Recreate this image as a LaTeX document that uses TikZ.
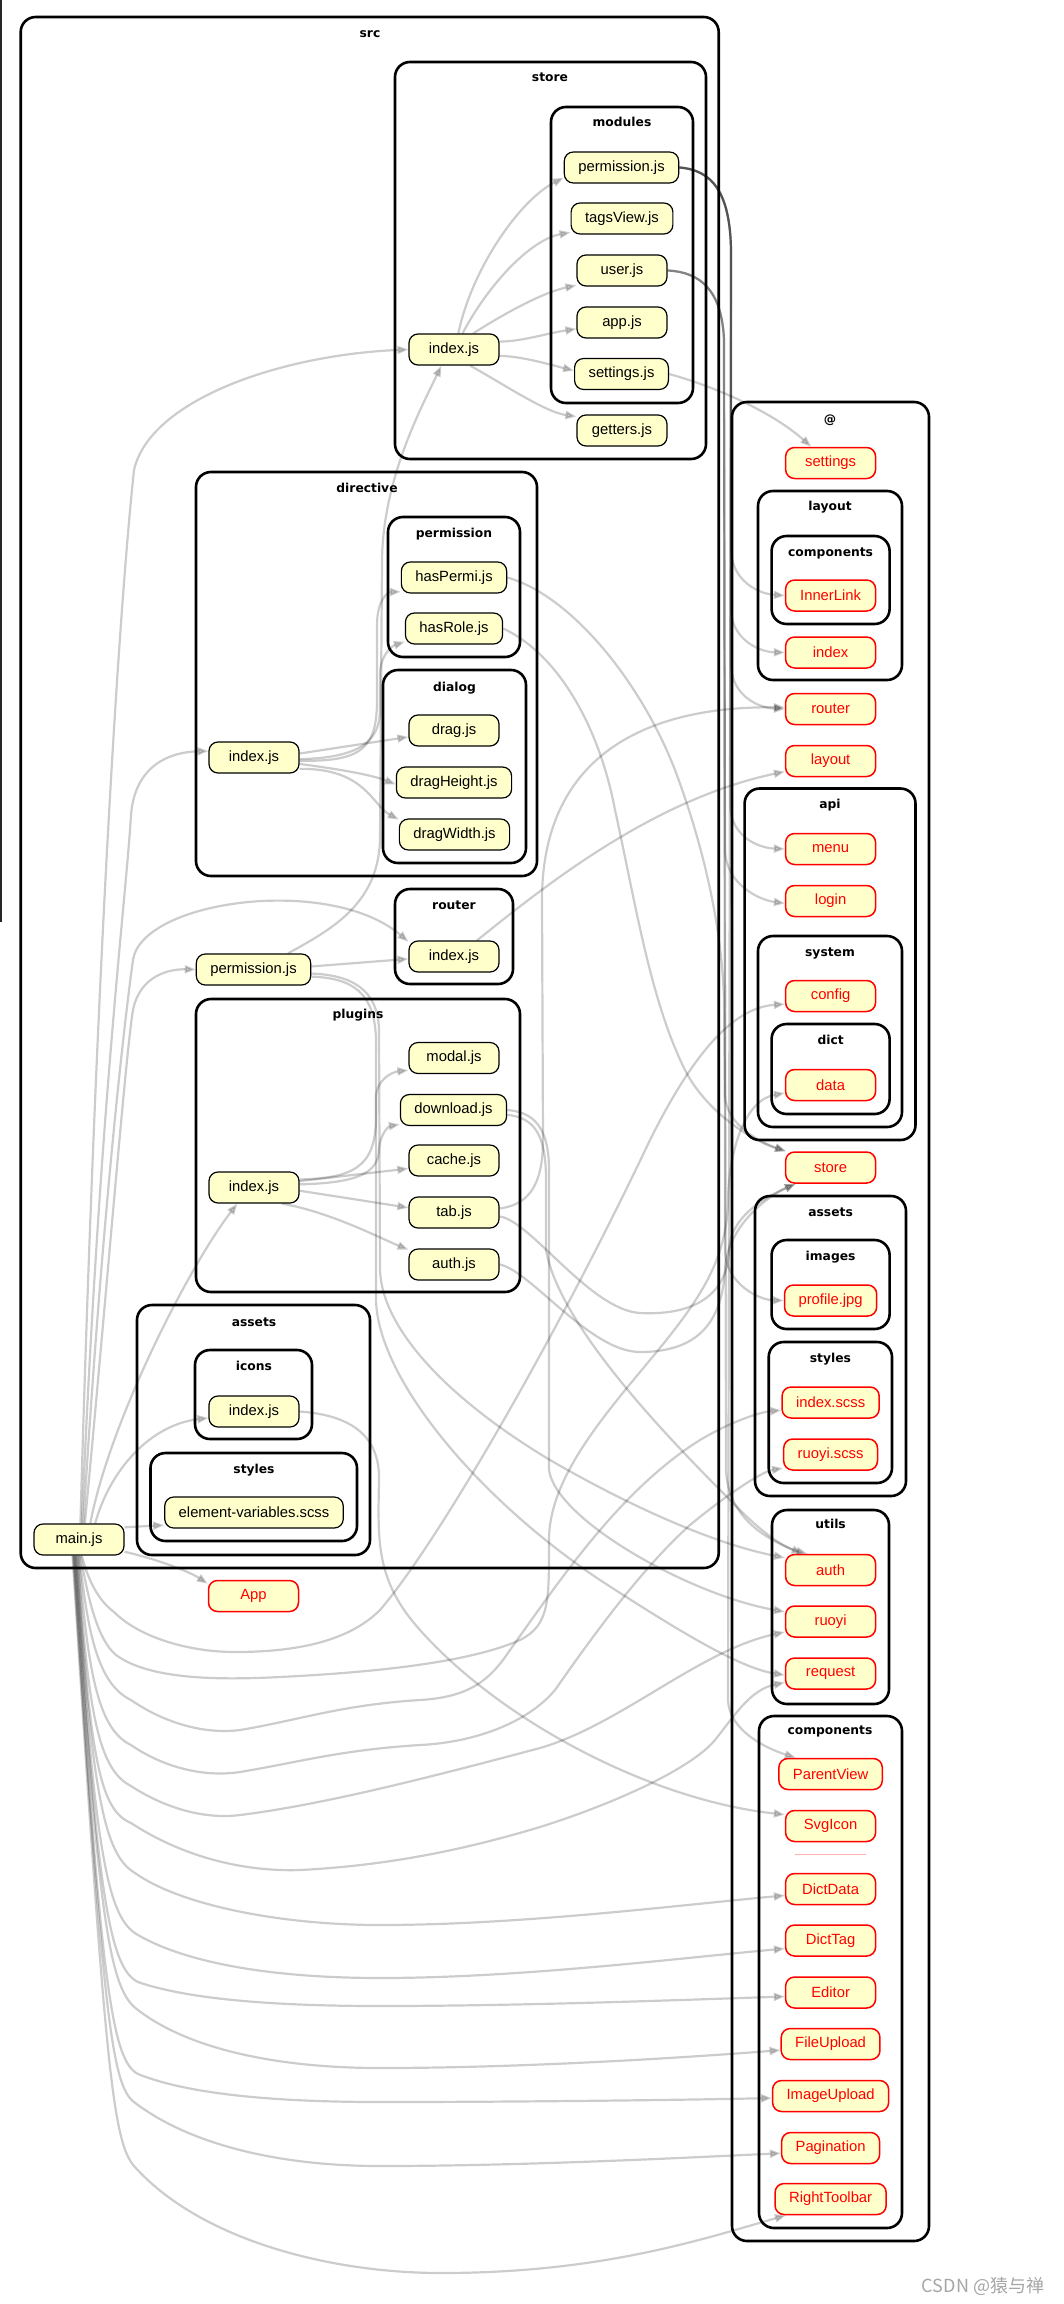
\documentclass[tikz,border=0pt]{standalone}
\usepackage{fontspec}
\setmainfont{Liberation Sans}
\newfontfamily\cfont{DejaVu Sans}
\newfontfamily\wmfont{Noto Sans CJK SC}
\usetikzlibrary{arrows.meta}
\definecolor{nodefill}{HTML}{FFFFCC}
\pgfdeclarelayer{back}
\pgfdeclarelayer{mid}
\pgfsetlayers{back,mid,main}
\begin{document}
\begin{tikzpicture}[x=1pt,y=-1pt,
  fn/.style={draw=black, line width=1.2pt, fill=nodefill, rounded corners=9pt,
    minimum height=31pt, minimum width=90pt, inner xsep=14pt, inner ysep=0pt,
    font={\fontsize{14.8}{17}\selectfont}},
  an/.style={fn, draw=red, text=red, line width=1.5pt},
  cl/.style={draw=black, line width=2.6pt, rounded corners=15pt},
  cll/.style={font={\cfont\bfseries\fontsize{12.3}{14}\selectfont}, inner sep=0pt, anchor=base},
  edg/.style={draw=black, opacity=0.2, line width=2.2pt, -{Triangle[length=11pt,width=8pt]}}]
\useasboundingbox (0,0) rectangle (1064,2304);
\begin{pgfonlayer}{back}
\fill[white] (0,0) rectangle (1064,2304);
\draw[line width=1.8pt, black!85] (0.9,0) -- (0.9,922);
% src clusters
\draw[cl] (20.7,17) rectangle (718.7,1568);
\draw[cl] (395,62) rectangle (706,459);
\draw[cl] (551,107) rectangle (693,403);
\draw[cl] (196,472) rectangle (537,876);
\draw[cl] (388,517) rectangle (520,657);
\draw[cl] (383,670) rectangle (526,863);
\draw[cl] (395,889) rectangle (513,984);
\draw[cl] (196,999) rectangle (520,1292);
\draw[cl] (137,1305) rectangle (370,1555);
\draw[cl] (195,1350) rectangle (312,1439);
\draw[cl] (150.5,1453) rectangle (357,1541);
% @ clusters
\draw[cl] (732,402) rectangle (929,2241);
\draw[cl] (758,491) rectangle (902,680);
\draw[cl] (771.6,536) rectangle (889.6,624);
\draw[cl] (744.6,788.5) rectangle (915.5,1140);
\draw[cl] (758,936) rectangle (902,1127);
\draw[cl] (771.6,1024) rectangle (889.6,1114);
\draw[cl] (755,1196) rectangle (906,1496);
\draw[cl] (771.6,1240) rectangle (889.6,1329);
\draw[cl] (768.7,1342) rectangle (892,1483);
\draw[cl] (772,1510) rectangle (889,1704);
\draw[cl] (759,1716) rectangle (902,2228);
\draw[red, opacity=0.3, line width=0.6pt] (795,1854) -- (866,1854);
\end{pgfonlayer}
% cluster labels
\node[cll] (lsrc) at (370,37.5) {src};
\node[cll] (lstore) at (550,81.5) {store};
\node[cll] (lmod) at (622,126.5) {modules};
\node[cll] (ldir) at (367,492.5) {directive};
\node[cll] (lperm) at (454,537.5) {permission};
\node[cll] (ldialog) at (454.5,691.5) {dialog};
\node[cll] (lrouter) at (454,909.5) {router};
\node[cll] (lplugins) at (358,1018.5) {plugins};
\node[cll] (lassets) at (254,1326.5) {assets};
\node[cll] (licons) at (254,1370.5) {icons};
\node[cll] (lstyles) at (254,1473.5) {styles};
\node[cll] (lat) at (830,423) {@};
\node[cll] (llayout) at (830,510.5) {layout};
\node[cll] (lcompa) at (830.6,556.5) {components};
\node[cll] (lapi) at (830,808.5) {api};
\node[cll] (lsystem) at (830,956) {system};
\node[cll] (ldict) at (830.6,1044.5) {dict};
\node[cll] (lassetsb) at (830.6,1216) {assets};
\node[cll] (limages) at (830.6,1260.5) {images};
\node[cll] (lstylesb) at (830.4,1362.5) {styles};
\node[cll] (lutils) at (830.6,1528.5) {utils};
\node[cll] (lcompb) at (830,1734) {components};
% src nodes
\node[fn] (sidx) at (454,349.5) {index.js};
\node[fn] (mperm) at (621.5,167.5) {permission.js};
\node[fn] (tags) at (622,218.5) {tagsView.js};
\node[fn] (user) at (622,270.5) {user.js};
\node[fn] (app) at (622,322.5) {app.js};
\node[fn] (setjs) at (621.5,374) {settings.js};
\node[fn] (getters) at (622,430.5) {getters.js};
\node[fn] (hasPermi) at (454,577.5) {hasPermi.js};
\node[fn] (hasRole) at (454,628.5) {hasRole.js};
\node[fn] (drag) at (454,730.5) {drag.js};
\node[fn] (dragH) at (454,782.5) {dragHeight.js};
\node[fn] (dragW) at (454.5,834.5) {dragWidth.js};
\node[fn] (dindex) at (254,757.5) {index.js};
\node[fn] (rindex) at (454,956.5) {index.js};
\node[fn] (perm) at (253.5,969.5) {permission.js};
\node[fn] (modal) at (454,1058) {modal.js};
\node[fn] (download) at (453.5,1110) {download.js};
\node[fn] (cache) at (454,1160.5) {cache.js};
\node[fn] (tab) at (454,1212.5) {tab.js};
\node[fn] (pauth) at (454,1264.5) {auth.js};
\node[fn] (pindex) at (254,1187.5) {index.js};
\node[fn] (iindex) at (254,1411.5) {index.js};
\node[fn] (elvar) at (254,1512.5) {element-variables.scss};
\node[fn] (main) at (79,1539.5) {main.js};
\node[an] (App) at (253.5,1596) {App};
% @ nodes
\node[an] (asettings) at (830.6,463) {settings};
\node[an] (InnerLink) at (830.6,595.5) {InnerLink};
\node[an] (lindex) at (830.6,652.5) {index};
\node[an] (arouter) at (830.6,709) {router};
\node[an] (alayout) at (830.6,761) {layout};
\node[an] (menu) at (830.6,849) {menu};
\node[an] (login) at (830.6,901) {login};
\node[an] (config) at (830.6,996) {config};
\node[an] (data) at (830.6,1085) {data};
\node[an] (astore) at (830.6,1167.5) {store};
\node[an] (profile) at (830.6,1300.5) {profile.jpg};
\node[an] (iscss) at (830.6,1402.5) {index.scss};
\node[an] (rscss) at (830.6,1454.5) {ruoyi.scss};
\node[an] (uauth) at (830.6,1570) {auth};
\node[an] (uruoyi) at (830.6,1621.5) {ruoyi};
\node[an] (request) at (830.6,1673.5) {request};
\node[an] (ParentView) at (830.6,1774) {ParentView};
\node[an] (SvgIcon) at (830.6,1826) {SvgIcon};
\node[an] (DictData) at (830.6,1889) {DictData};
\node[an] (DictTag) at (830.6,1940.5) {DictTag};
\node[an] (Editor) at (830.6,1992.5) {Editor};
\node[an] (FileUpload) at (830.6,2044) {FileUpload};
\node[an] (ImageUpload) at (830.6,2096) {ImageUpload};
\node[an] (Pagination) at (830.6,2148) {Pagination};
\node[an] (RightToolbar) at (830.6,2199) {RightToolbar};
\node[text=black!35, font={\wmfont\fontsize{18}{20}\selectfont}, inner sep=0pt] (wm) at (983,2286) {CSDN @猿与禅};
\begin{pgfonlayer}{mid}
% store
\draw[edg] (sidx.75) .. controls (472,268) and (520,200) .. (mperm.190);
\draw[edg] (sidx.62) .. controls (488,285) and (530,240) .. (tags.195);
\draw[edg] (sidx.40) .. controls (510,310) and (545,292) .. (user.198);
\draw[edg] (sidx.10) .. controls (520,342) and (548,333) .. (app.188);
\draw[edg] (sidx.-8) .. controls (520,356) and (548,364) .. (setjs.176);
\draw[edg] (sidx.-45) .. controls (505,385) and (545,412) .. (getters.163);
% directive
\draw[edg] (dindex.5) -- (drag.188);
\draw[edg] (dindex.-8) .. controls (330,768) and (370,774) .. (dragH.182);
\draw[edg] (dindex.-14) .. controls (365,768) and (372,805) .. (dragW.165);
\draw[edg] (dindex.-4) .. controls (362,762) and (377,748) .. (377,700) -- (377,625) .. controls (377,600) and (388,592) .. (hasPermi.195);
\draw[edg] (dindex.-2) .. controls (358,758) and (380,742) .. (380,710) -- (380,675) .. controls (380,655) and (392,646) .. (hasRole.195);
% plugins
\draw[edg] (pindex.8) -- (cache.190);
\draw[edg] (pindex.-4) -- (tab.174);
\draw[edg] (pindex.-30) .. controls (330,1212) and (380,1238) .. (pauth.162);
\draw[edg] (pindex.4) .. controls (360,1183) and (378,1172) .. (379,1150) .. controls (380,1132) and (390,1126) .. (download.195);
\draw[edg] (pindex.10) .. controls (352,1178) and (375,1168) .. (376,1120) -- (376,1098) .. controls (376,1080) and (392,1072) .. (modal.195);
% main upwards
\draw[edg] (main.85) .. controls (95,1000) and (118,620) .. (134,470) .. controls (150,400) and (280,355) .. (sidx.180);
\draw[edg] (main.80) .. controls (100,1100) and (126,900) .. (131,815) .. controls (135,765) and (170,752) .. (dindex.172);
\draw[edg] (main.75) .. controls (103,1200) and (126,1010) .. (133,960) .. controls (142,900) and (330,875) .. (rindex.162);
\draw[edg] (main.70) .. controls (106,1300) and (126,1050) .. (133,1010) .. controls (140,975) and (170,969) .. (perm.180);
\draw[edg] (main.55) .. controls (110,1420) and (190,1265) .. (pindex.224);
\draw[edg] (main.45) .. controls (110,1470) and (150,1425) .. (iindex.188);
\draw[edg] (main.15) -- (elvar.188);
\draw[edg] (main.-15) .. controls (160,1560) and (190,1572) .. (App.165);
% main downwards fan
\draw[edg] (main.-80) .. controls (88,1580) and (98,1600) .. (114,1612) .. controls (140,1638) and (190,1652) .. (235,1652) .. controls (300,1652) and (350,1640) .. (380,1610) .. controls (440,1540) and (560,1330) .. (650,1140) .. controls (690,1060) and (730,1008) .. (config.190);
\draw[edg] (main.-84) .. controls (88,1600) and (98,1640) .. (116,1655) .. controls (150,1680) and (220,1680) .. (280,1677) .. controls (380,1672) and (470,1662) .. (520,1640) .. controls (550,1625) and (549,1600) .. (549,1540) .. controls (549,1480) and (600,1420) .. (650,1360) .. controls (700,1300) and (727,1260) .. (728,1200) .. controls (729,1150) and (745,1100) .. (data.190);
\draw[edg] (main.-88) .. controls (88,1640) and (100,1685) .. (131,1700) .. controls (160,1720) and (200,1735) .. (240,1730) .. controls (300,1720) and (340,1705) .. (420,1700) .. controls (470,1697) and (490,1680) .. (510,1650) .. controls (560,1580) and (620,1490) .. (700,1440) .. controls (730,1422) and (760,1412) .. (iscss.189);
\draw[edg] (main.-91) .. controls (88,1680) and (100,1730) .. (131,1745) .. controls (160,1765) and (200,1778) .. (240,1772) .. controls (300,1762) and (340,1750) .. (420,1745) .. controls (480,1742) and (530,1720) .. (555,1690) .. controls (590,1640) and (640,1570) .. (690,1525) .. controls (720,1500) and (760,1472) .. (rscss.196);
\draw[edg] (main.-94) .. controls (88,1720) and (100,1770) .. (131,1786) .. controls (160,1805) and (200,1820) .. (240,1815) .. controls (320,1805) and (420,1780) .. (540,1748) .. controls (620,1725) and (700,1650) .. (uruoyi.193);
\draw[edg] (main.-97) .. controls (90,1760) and (100,1810) .. (131,1823) .. controls (180,1855) and (240,1872) .. (300,1870) .. controls (400,1865) and (480,1845) .. (540,1827) .. controls (610,1805) and (690,1770) .. (715,1740) .. controls (735,1715) and (750,1690) .. (request.191);
\draw[edg] (main.-100) .. controls (92,1800) and (105,1855) .. (135,1873) .. controls (180,1905) and (280,1925) .. (380,1925) .. controls (520,1925) and (680,1905) .. (DictData.188);
\draw[edg] (main.-102) .. controls (95,1860) and (108,1918) .. (138,1935) .. controls (190,1965) and (280,1978) .. (380,1978) .. controls (520,1978) and (680,1958) .. (DictTag.190);
\draw[edg] (main.-104) .. controls (97,1900) and (110,1968) .. (138,1982) .. controls (190,2000) and (280,2006) .. (380,2006) .. controls (520,2006) and (680,2000) .. (Editor.185);
\draw[edg] (main.-106) .. controls (99,1930) and (110,1990) .. (138,2010) .. controls (190,2050) and (280,2068) .. (380,2068) .. controls (520,2068) and (680,2058) .. (FileUpload.187);
\draw[edg] (main.-108) .. controls (101,1990) and (112,2060) .. (138,2074) .. controls (190,2095) and (280,2102) .. (380,2102) .. controls (520,2102) and (680,2100) .. (ImageUpload.182);
\draw[edg] (main.-110) .. controls (103,2020) and (112,2085) .. (134,2102) .. controls (190,2145) and (280,2166) .. (380,2166) .. controls (520,2166) and (680,2158) .. (Pagination.186);
\draw[edg] (main.-112) .. controls (105,2060) and (112,2140) .. (134,2166) .. controls (200,2240) and (330,2273) .. (441,2273) .. controls (600,2273) and (700,2240) .. (RightToolbar.200);
% src/permission.js
\draw[edg] (perm.3) -- (rindex.183);
\draw[edg] (perm.25) .. controls (330,930) and (378,905) .. (380,840) -- (382,560) .. controls (383,480) and (420,410) .. (sidx.-128);
\draw[edg] (perm.-4) .. controls (350,975) and (378,988) .. (379,1030) -- (380,1270) .. controls (382,1330) and (450,1400) .. (550,1460) .. controls (640,1512) and (720,1545) .. (uauth.165);
\draw[edg] (perm.-7) .. controls (352,978) and (375,992) .. (376,1040) -- (376,1300) .. controls (378,1380) and (480,1500) .. (600,1580) .. controls (680,1632) and (740,1668) .. (request.182);
% store/modules/user.js
\draw[edg] (user.east) .. controls (700,272) and (722,290) .. (724,340) -- (725,850) .. controls (726,885) and (760,900) .. (login.183);
\draw[edg] (user.east) .. controls (700,272) and (722,290) .. (724,340) -- (725,1250) .. controls (726,1285) and (760,1300) .. (profile.180);
\draw[edg] (user.east) .. controls (700,272) and (722,290) .. (724,340) -- (726,1470) .. controls (728,1520) and (770,1540) .. (uauth.150);
% store/modules/permission.js
\draw[edg] (mperm.east) .. controls (712,170) and (730,192) .. (731,250) -- (731,550) .. controls (732,582) and (760,594) .. (InnerLink.180);
\draw[edg] (mperm.east) .. controls (712,170) and (730,192) .. (731,250) -- (731,610) .. controls (732,640) and (760,652) .. (lindex.180);
\draw[edg] (mperm.east) .. controls (712,170) and (730,192) .. (731,250) -- (731,665) .. controls (732,697) and (760,708) .. (arouter.180);
\draw[edg] (mperm.east) .. controls (712,170) and (730,192) .. (731,250) -- (730,805) .. controls (731,838) and (760,848) .. (menu.180);
\draw[edg] (mperm.east) .. controls (712,170) and (730,192) .. (731,250) -- (728,1700) .. controls (729,1730) and (765,1748) .. (ParentView.155);
% settings.js
\draw[edg] (setjs.east) .. controls (710,385) and (770,410) .. (asettings.140);
% directive permission
\draw[edg] (hasPermi.east) .. controls (570,595) and (640,680) .. (675,770) .. controls (705,850) and (722,930) .. (724,1000) -- (725,1095) .. controls (726,1125) and (760,1142) .. (astore.160);
\draw[edg] (hasRole.east) .. controls (560,655) and (600,730) .. (615,810) .. controls (635,900) and (650,1000) .. (685,1070) .. controls (705,1110) and (750,1140) .. (astore.160);
% router
\draw[edg] (rindex.35) .. controls (540,890) and (650,800) .. (alayout.193);
% plugins outgoing
\draw[edg] (tab.5) .. controls (525,1205) and (543,1190) .. (543,1140) -- (542,900) .. controls (542,760) and (640,706) .. (arouter.178);
\draw[edg] (tab.-5) .. controls (530,1220) and (590,1310) .. (640,1313) .. controls (700,1316) and (728,1290) .. (729,1250) .. controls (730,1215) and (770,1195) .. (astore.205);
\draw[edg] (pauth.east) .. controls (530,1270) and (590,1352) .. (640,1352) .. controls (700,1352) and (722,1320) .. (725,1270) .. controls (727,1225) and (770,1195) .. (astore.205);
\draw[edg] (download.east) .. controls (532,1112) and (549,1125) .. (549,1170) -- (549,1470) .. controls (556,1520) and (690,1595) .. (uruoyi.168);
\draw[edg] (download.-5) .. controls (535,1118) and (546,1135) .. (546,1180) -- (546,1250) .. controls (560,1330) and (680,1450) .. (740,1510) .. controls (765,1535) and (785,1548) .. (uauth.145);
% icons
\draw[edg] (iindex.east) .. controls (350,1415) and (380,1435) .. (379,1480) .. controls (378,1540) and (375,1580) .. (420,1630) .. controls (500,1720) and (650,1800) .. (SvgIcon.166);
\end{pgfonlayer}
\end{tikzpicture}
\end{document}
